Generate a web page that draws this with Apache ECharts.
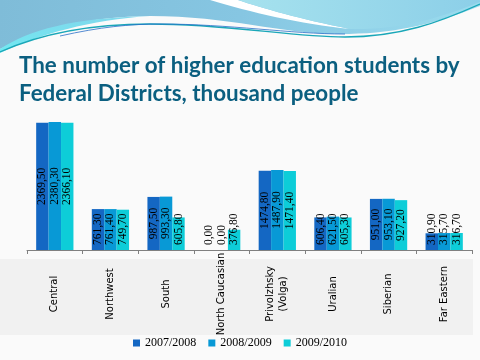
<!DOCTYPE html>
<html><head><meta charset="utf-8">
<script src="https://cdn.jsdelivr.net/npm/echarts@6/dist/echarts.min.js"></script>
<style>html,body{margin:0;padding:0;background:#fafafa}#c{width:480px;height:360px}</style>
</head><body><div id="c"></div>
<script>
const categories = ['Central','Northwest','South','North Caucasian','Privolzhsky\n(Volga)','Uralian','Siberian','Far Eastern'];
const seriesNames = ['2007/2008','2008/2009','2009/2010'];
const values2007 = [2369.5, 761.3, 987.5, 0, 1474.8, 606.4, 951.0, 310.9];
const values2008 = [2380.3, 761.4, 993.3, 0, 1487.9, 621.5, 953.1, 315.7];
const values2009 = [2366.1, 749.7, 605.8, 376.8, 1471.4, 605.3, 927.2, 316.7];
const colors = ['#1467c3', '#0899d6', '#0dcdd8'];

const GRID_TOP = 121, GRID_BOTTOM = 110, Y_MAX = 2400;
const PLOT_H = 360 - GRID_TOP - GRID_BOTTOM;
const LABEL_SIZE = 11.5;
const ctx = document.createElement('canvas').getContext('2d');
ctx.font = LABEL_SIZE + 'px "Liberation Serif"';
function fmt(v) { return v.toFixed(2).replace('.', ','); }
function buildData(vals) {
  return vals.map(v => {
    const h = v * PLOT_H / Y_MAX;
    const half = ctx.measureText(fmt(v)).width / 2;
    const lift = Math.max(0, half + 5 - h / 2);
    // label is rotated 90deg: its local x axis points up on screen
    return { value: v, label: { offset: [lift, 0] } };
  });
}
const allVals = [values2007, values2008, values2009];

// decorative wave shapes (slide background)
const wavePaths = {
  waveMain: 'M0,0 L480,0 L480,6 C430,26 390,34 340,34 C280,34 230,16 150,16 C90,16 40,30 0,49 Z',
  waveLeft: 'M0,49 C30,30 70,18 150,16 C90,20 40,34 0,53 Z',
  waveWhite: 'M210,0 C250,12 300,24 350,29 C300,19 262,8 238,0 Z',
  waveRight: 'M238,0 C262,8 300,19 350,29 C400,30 440,18 480,2 L480,0 Z',
  waveLine1: 'M0,52 C40,34 90,24 150,24 C230,24 290,37 345,37 C400,37 440,22 480,4',
  waveLine2: 'M60,36 C100,27 130,24 160,24 C230,24 290,34 345,34'
};
Object.keys(wavePaths).forEach(k => {
  echarts.graphic.registerShape(k, echarts.graphic.extendPath(wavePaths[k], {}));
});
const LG = echarts.graphic.LinearGradient;

const chart = echarts.init(document.getElementById('c'));
chart.setOption({
  backgroundColor: '#fafafa',
  animation: false,
  title: {
    text: 'The number of higher education students by\nFederal Districts, thousand people',
    left: 14, top: 47,
    textStyle: { fontFamily: 'Lato', fontWeight: 'bold', fontSize: 22.4, color: '#0b5f80', lineHeight: 28 }
  },
  graphic: [
    { type: 'rect', z: -10, shape: { x: 0, y: 259, width: 473, height: 76 }, style: { fill: '#f1f1f1' } },
    { type: 'waveMain', z: -5, style: { fill: new LG(0, 0, 1, 1, [{offset:0,color:'#7fbcd8'},{offset:0.5,color:'#86c6e2'},{offset:1,color:'#9adcee'}]) } },
    { type: 'waveLeft', z: -4, style: { fill: new LG(0, 0, 0, 1, [{offset:0,color:'#80d8ec'},{offset:1,color:'#70eaf2'}]) } },
    { type: 'waveWhite', z: -3, style: { fill: '#ffffff' } },
    { type: 'waveRight', z: -3, style: { fill: new LG(0, 0, 1, 0, [{offset:0,color:'#a6e2ee'},{offset:1,color:'#8ccfe8'}]) } },
    { type: 'waveLine1', z: -2, style: { fill: null, stroke: '#1aa7b8', lineWidth: 1.3 } },
    { type: 'waveLine2', z: -2, style: { fill: null, stroke: '#2a6fc8', lineWidth: 0.8 } }
  ],
  legend: {
    bottom: 6, left: 'center',
    itemWidth: 7, itemHeight: 7, itemGap: 12, icon: 'rect',
    textStyle: { fontFamily: 'Liberation Serif', fontSize: 12, color: '#000' },
    data: seriesNames
  },
  grid: { left: 27, right: 8, top: GRID_TOP, bottom: GRID_BOTTOM, containLabel: false },
  xAxis: {
    type: 'category', data: categories,
    axisLine: { lineStyle: { color: '#808080' } },
    axisTick: { show: true, length: 4, lineStyle: { color: '#808080' } },
    axisLabel: {
      interval: 0, rotate: 90, margin: 44, align: 'center', verticalAlign: 'middle',
      fontFamily: 'DejaVu Sans', fontSize: 10, color: '#000', lineHeight: 13
    }
  },
  yAxis: { type: 'value', min: 0, max: Y_MAX, show: false, splitLine: { show: false } },
  series: seriesNames.map((name, i) => ({
    name, type: 'bar', barGap: '0%', barCategoryGap: '33%',
    itemStyle: { color: colors[i] },
    data: buildData(allVals[i]),
    label: {
      show: true, position: 'inside', rotate: 90, align: 'center', verticalAlign: 'middle',
      fontFamily: 'Liberation Serif', fontSize: LABEL_SIZE, color: '#000',
      formatter: p => fmt(p.value)
    }
  }))
});
</script></body></html>
